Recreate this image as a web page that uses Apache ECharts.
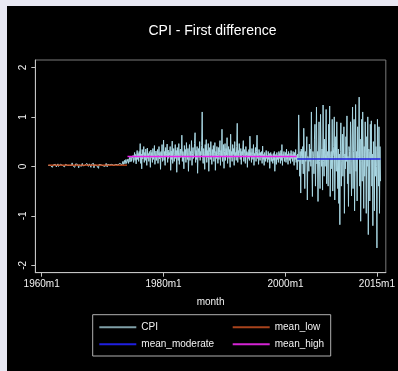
<!DOCTYPE html>
<html>
<head>
<meta charset="utf-8">
<style>
  html, body { margin: 0; padding: 0; background: #e8e8f3; width: 398px; height: 371px; overflow: hidden; }
  #chart { position: absolute; left: 7px; top: 6px; width: 391px; height: 365px; }
</style>
<script src="https://cdn.jsdelivr.net/npm/echarts@6/dist/echarts.min.js"></script>
</head>
<body>
<div id="chart"></div>
<script>
// Monthly first difference of the CPI; months are counted Stata-style (0 = 1960m1).

// 1961m2 - 1974m1
const lowStartMonth = 13;
const cpiLow = [
  0.02, 0.00, 0.03, -0.01, 0.02, 0.04, 0.01, 0.03, -0.02, 0.02, 0.03,
  0.01, 0.03, 0.00, 0.04, 0.02, -0.01, 0.03, 0.02, 0.05, 0.00, 0.02, 0.03,
  0.02, 0.04, 0.01, 0.03, 0.00, 0.02, 0.05, 0.01, 0.03, -0.01, 0.02, 0.04,
  0.03, 0.01, 0.04, 0.02, 0.06, 0.00, 0.03, 0.02, 0.04, 0.01, 0.03, 0.02,
  0.07, 0.02, 0.01, 0.04, 0.03, -0.02, 0.02, 0.05, 0.01, 0.03, 0.02, 0.04,
  0.02, -0.03, 0.03, 0.01, 0.05, 0.02, 0.00, 0.04, 0.06, 0.01, 0.03, 0.02,
  0.04, 0.02, 0.05, -0.01, 0.03, 0.06, 0.02, 0.04, 0.00, 0.03, 0.05, 0.01,
  0.03, -0.02, 0.04, 0.02, 0.05, 0.01, 0.06, -0.03, 0.03, 0.02, 0.04, 0.01,
  0.02, 0.05, 0.00, 0.03, -0.04, 0.04, 0.02, 0.06, 0.01, 0.03, 0.00, 0.04,
  0.03, 0.01, 0.05, 0.02, 0.04, 0.00, 0.03, 0.06, 0.02, -0.01, 0.04, 0.03,
  0.02, 0.05, 0.03, 0.01, 0.06, 0.02, 0.04, 0.00, 0.05, 0.03, 0.02, 0.06,
  0.03, 0.01, 0.04, 0.06, 0.02, 0.05, 0.03, 0.07, 0.01, 0.04, 0.06, 0.03,
  0.05, 0.08, 0.03, 0.06, 0.10, 0.04, 0.07, 0.12, 0.05, 0.09, 0.14, 0.06,
  0.08
];

// 1974m2 - 2001m11
const highStartMonth = 169;
const cpiHigh = [
  0.08, 0.15, 0.06, 0.12, 0.18, 0.09, 0.14, 0.20, 0.10, 0.16, 0.12,
  0.22, 0.08, 0.18, 0.28, 0.12, 0.24, 0.05, 0.20, 0.32, 0.14, 0.26, 0.10,
  0.30, 0.18, 0.46, 0.06, 0.25, -0.05, 0.34, 0.15, 0.22, 0.40, 0.08, 0.28,
  0.12, 0.35, 0.20, 0.02, 0.37, 0.16, 0.26, 0.10, 0.30, 0.22, -0.02, 0.33,
  0.18, 0.28, 0.08, 0.36, 0.14, 0.24, 0.42, 0.04, 0.20, 0.31, 0.12, 0.26,
  0.34, 0.06, 0.22, 0.40, 0.15, 0.28, -0.06, 0.30, 0.18, 0.44, 0.10, 0.24,
  0.53, 0.12, 0.30, 0.02, 0.38, 0.20, 0.26, 0.45, 0.08, 0.33, 0.16, 0.28,
  0.22, 0.40, -0.08, 0.31, 0.14, 0.51, 0.06, 0.27, 0.36, 0.10, 0.24, 0.44,
  0.16, 0.32, -0.12, 0.38, 0.20, 0.12, 0.46, 0.04, 0.28, 0.35, 0.18, 0.25,
  0.63, 0.10, 0.30, 0.22, -0.05, 0.42, 0.18, 0.34, 0.08, 0.48, 0.24, 0.14,
  0.36, -0.10, 0.28, 0.44, 0.12, 0.30, 0.20, 0.52, 0.02, 0.26, 0.38, 0.16,
  0.24, 0.46, 0.68, 0.08, 0.32, 0.14, 0.40, -0.14, 0.28, 0.36, 0.18, 0.50,
  0.12, 0.30, 0.22, 0.42, 1.10, 0.16, 0.06, 0.36, 0.26, -0.06, 0.44, 0.20,
  0.54, 0.08, 0.32, 0.18, 0.46, -0.10, 0.28, 0.38, 0.14, 0.50, 0.22, 0.04,
  0.34, 0.20, 0.42, 0.10, 0.26, 0.48, -0.08, 0.30, 0.16, 0.40, 0.24, 0.06,
  0.38, 0.14, 0.28, 0.52, 0.02, 0.32, 0.20, 0.75, 0.10, 0.26, 0.44, -0.04,
  0.30, 0.46, 0.12, 0.36, 0.22, 0.58, 0.06, 0.28, 0.40, 0.16, 0.34, -0.02,
  0.65, 0.18, 0.30, 0.10, 0.44, 0.24, 0.36, 0.02, 0.50, 0.20, 0.28, 0.12,
  0.40, 0.87, 0.08, 0.32, 0.20, 0.46, 0.26, 0.14, 0.36, 0.04, 0.30, 0.22,
  0.18, 0.52, 0.10, 0.34, 0.26, 0.06, 0.40, 0.22, 0.30, -0.02, 0.28, 0.16,
  0.34, 0.12, 0.61, 0.20, 0.28, 0.08, 0.36, 0.24, 0.14, 0.44, 0.02, 0.26,
  0.20, 0.38, 0.10, 0.30, 0.63, 0.16, 0.26, 0.04, 0.34, 0.22, 0.12, 0.28,
  0.18, 0.30, 0.06, 0.41, 0.14, 0.24, 0.02, 0.28, 0.20, 0.10, 0.32, 0.16,
  0.22, 0.08, 0.30, 0.14, 0.26, -0.04, 0.20, 0.28, 0.10, 0.24, 0.16, 0.06,
  0.26, 0.12, 0.30, -0.10, 0.18, 0.24, 0.04, 0.28, 0.14, 0.22, 0.08, 0.30,
  0.16, 0.26, 0.06, 0.32, 0.12, 0.44, 0.02, 0.24, 0.18, 0.30, 0.10, 0.22,
  0.28, 0.08, 0.35, 0.14, 0.24, 0.04, 0.30, 0.18, 0.12, 0.26, 0.06, 0.32,
  0.16, 0.24, 0.10, 0.30, 0.20, 0.02, 0.28, 0.14, 0.34, 0.08, 0.22
];

// 2001m12 - 2015m8
const moderateStartMonth = 503;
const cpiModerate = [
  -0.07,
  0.25, 0.10, 1.04, 0.20, -0.20, 0.30, -0.54, 0.35, 0.20, 0.05, 0.40, -0.15,
  0.77, 0.15, -0.45, 0.30, 0.10, 0.25, 0.60, -0.68, 0.20, 0.15, -0.10, 0.45,
  0.10, 0.35, 0.00, 1.10, 0.05, -0.61, 0.30, 0.20, -0.15, 0.55, 0.85, -0.40,
  0.20, 1.20, 0.05, 0.30, -0.71, 0.15, 0.90, 0.10, -0.45, 1.05, 0.25, 0.00,
  0.35, -0.48, 1.24, 0.10, -0.20, 0.55, 0.00, 0.25, 1.15, -0.35, 0.20, 0.30,
  -0.40, 0.85, 0.15, 1.22, -0.61, 0.20, 0.30, -0.05, 0.95, -0.50, 0.20, 0.40,
  1.00, -0.68, 0.15, 0.60, -0.10, 0.90, 0.15, -0.45, 0.35, -0.75, 0.25, -1.18,
  0.30, 0.88, -0.40, 0.10, 0.65, -0.20, 0.20, 0.80, -0.95, 0.25, -0.05, 0.60,
  0.10, 1.02, -0.35, 0.20, -0.81, 0.40, 0.30, -0.15, 0.90, 0.10, -0.60, 0.35,
  1.20, -0.45, 0.30, 0.95, -0.90, 0.15, 1.25, -0.10, 0.30, -0.70, 0.80, 0.15,
  0.20, 1.40, -0.40, 0.55, -1.11, 0.10, 0.95, -0.30, 1.10, 0.20, -0.85, 0.40,
  -0.20, 0.90, 0.25, -0.95, 0.60, 0.00, 1.00, -1.38, 0.35, 0.30, -0.70, 0.85,
  0.15, 0.92, -0.40, 0.25, -1.20, 0.50, 0.25, -0.90, 0.85, -0.20, 0.40, 0.00,
  -1.65, 0.95, 0.30, -0.40, 0.80, -0.95, 0.40, -0.30
];

// Regime means, each drawn over its own span of months
const meanNames  = ['mean_low', 'mean_moderate', 'mean_high'];
const meanStart  = [13, 503, 169];
const meanEnd    = [168, 667, 502];
const meanValues = [0.025, 0.15, 0.2];
const meanColors = ['#d9531e', '#1f1fe0', '#ee22ee'];

const xTickMonths = [0, 240, 480, 660];
const yTickValues = [-2, -1, 0, 1, 2];

const FONT = '"Liberation Sans", Arial, sans-serif';

function toPairs(start, values) {
  return values.map((v, i) => [start + i, v]);
}
const cpiData = []
  .concat(toPairs(lowStartMonth, cpiLow))
  .concat(toPairs(highStartMonth, cpiHigh))
  .concat(toPairs(moderateStartMonth, cpiModerate));

function monthLabel(m) {
  return (1960 + Math.floor(m / 12)) + 'm' + ((m % 12) + 1);
}

const series = [{
  name: 'CPI',
  type: 'line',
  data: cpiData,
  symbol: 'none',
  lineStyle: { width: 1, color: '#a8d6e2' },
  itemStyle: { color: '#7f9fa7' },
  z: 2
}];
meanNames.forEach((name, k) => {
  series.push({
    name: name,
    type: 'line',
    data: [[meanStart[k], meanValues[k]], [meanEnd[k], meanValues[k]]],
    symbol: 'none',
    lineStyle: { width: k === 0 ? 1.2 : 1.6, color: meanColors[k] },
    itemStyle: { color: meanColors[k] },
    z: 3
  });
});

const legendText = { color: '#f2f2f2', fontSize: 10, fontFamily: FONT, lineHeight: 12 };

const chart = echarts.init(document.getElementById('chart'), null, { renderer: 'canvas' });
chart.setOption({
  animation: false,
  backgroundColor: '#000000',
  grid: {
    left: 28.3, right: 8.7, top: 54, bottom: 98.3,
    show: true, borderColor: '#7a7a7a', borderWidth: 1, backgroundColor: 'transparent'
  },
  graphic: [
    {
      type: 'text', x: 205.5, y: 25,
      style: {
        text: 'CPI - First difference', fill: '#ffffff', font: '14px ' + FONT,
        textAlign: 'center', textVerticalAlign: 'middle'
      }
    },
    {
      type: 'rect', shape: { x: 85.7, y: 308.7, width: 238, height: 41.3 },
      style: { fill: 'transparent', stroke: '#b0b0b0', lineWidth: 1 }
    }
  ],
  legend: [
    {
      orient: 'vertical', left: 92.3, top: 315.3, padding: 0,
      itemWidth: 37, itemHeight: 2, itemGap: 5, icon: 'rect',
      textStyle: legendText,
      data: [
        { name: 'CPI', itemStyle: { color: '#7f9fa7' } },
        { name: 'mean_moderate', itemStyle: { color: '#1f1fe0' } }
      ]
    },
    {
      orient: 'vertical', left: 225.7, top: 315.3, padding: 0,
      itemWidth: 37, itemHeight: 2, itemGap: 5, icon: 'rect',
      textStyle: legendText,
      data: [
        { name: 'mean_low', itemStyle: { color: '#a8431c' } },
        { name: 'mean_high', itemStyle: { color: '#d424d4' } }
      ]
    }
  ],
  xAxis: {
    type: 'value', min: -12.5, max: 677.5,
    name: 'month', nameLocation: 'middle', nameGap: 25,
    nameTextStyle: { color: '#f2f2f2', fontSize: 10, fontFamily: FONT },
    axisLine: { show: true, onZero: false, lineStyle: { color: '#c4c4c4', width: 1 } },
    axisTick: { show: true, length: 4, customValues: xTickMonths, lineStyle: { color: '#c4c4c4' } },
    axisLabel: {
      customValues: xTickMonths, formatter: monthLabel, margin: 7,
      color: '#f2f2f2', fontSize: 10, fontFamily: FONT
    },
    splitLine: { show: false }
  },
  yAxis: {
    type: 'value', min: -2.15, max: 2.15,
    axisLine: { show: true, onZero: false, lineStyle: { color: '#c4c4c4', width: 1 } },
    axisTick: { show: true, length: 4, customValues: yTickValues, lineStyle: { color: '#c4c4c4' } },
    axisLabel: {
      customValues: yTickValues, rotate: 90, margin: 7,
      color: '#f2f2f2', fontSize: 10, fontFamily: FONT
    },
    splitLine: { show: false }
  },
  series: series
});
</script>
</body>
</html>
